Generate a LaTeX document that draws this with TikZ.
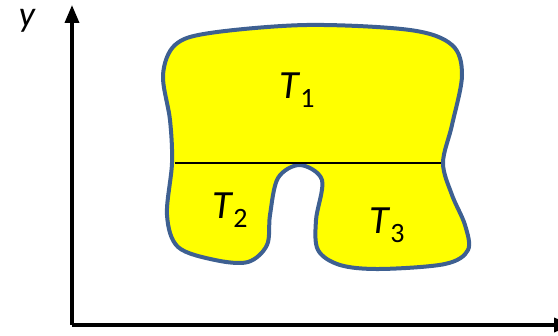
\documentclass[tikz,border=0pt]{standalone}
\usepackage{fontspec}
\setmainfont{Carlito}
\usetikzlibrary{arrows.meta}
\definecolor{outline}{RGB}{62,96,145}
\definecolor{fillyellow}{RGB}{255,255,0}
\tikzset{
  axis/.style={line width=3.5pt, -{Triangle[width=14pt,length=18pt]}},
  region/.style={draw=outline, line width=4pt, fill=fillyellow, line join=round},
  lbl/.style={font=\fontsize{40}{42}\selectfont, inner sep=0pt},
}
\newcommand{\tsub}[1]{\textit{T}\raisebox{-9pt}{\fontsize{28}{29}\selectfont #1}}
\begin{document}
\begin{tikzpicture}[x=1pt,y=-1pt]
\useasboundingbox (0,0) rectangle (558,336);
\coordinate (o) at (72,325);
\coordinate (ytip) at (72,5);
\coordinate (xtip) at (572,325);
\draw[axis] (o) -- (ytip);
\draw[axis] (o) -- (xtip);
\node[lbl, font=\fontsize{36}{38}\selectfont\itshape] (ylab) at (27,21) {y};
\draw[region] plot[smooth cycle, tension=0.55] coordinates {
 (163,75) (175,45) (210,33) (307,25) (410,30) (452,45) (462,75)
 (452,125) (443,163) (452,195) (465,225) (468,250) (445,264) (380,269) (340,265)
 (318,250) (316,220) (322,180) (300,165) (278,178) (270,215) (267,245)
 (248,262) (215,260) (178,247) (167,215) (172,163) (170,120)
};
\coordinate (la) at (175,163);
\coordinate (lb) at (441,163);
\draw[line width=1.8pt] (la) -- (lb);
\node[lbl] (t1) at (297,90) {\tsub{1}};
\node[lbl] (t2) at (230,210) {\tsub{2}};
\node[lbl] (t3) at (387,225) {\tsub{3}};
\end{tikzpicture}
\end{document}
